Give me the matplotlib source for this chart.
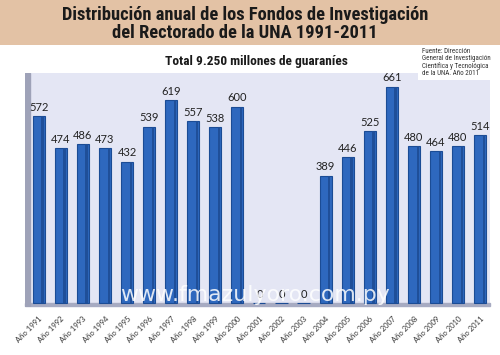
import matplotlib.pyplot as plt
import numpy as np

# Fondos de investigación por año (millones de guaraníes)
years = [str(y) for y in range(1991, 2012)]
values = [572, 474, 486, 473, 432, 539, 619, 557, 538, 600,
          0, 0, 0, 389, 446, 525, 661, 480, 464, 480, 514]
tick_labels = ["Año " + y for y in years]

title = "Distribución anual de los Fondos de Investigación\ndel Rectorado de la UNA 1991-2011"
subtitle = "Total 9.250 millones de guaraníes"
source = "Fuente: Dirección\nGeneral de Investigación\nCientífica y Tecnológica\nde la UNA. Año 2011"

narrow = ['Roboto Condensed', 'Liberation Sans Narrow', 'DejaVu Sans']
plain = ['Lato', 'DejaVu Sans']

fig = plt.figure(figsize=(5, 3.55), dpi=100)
fig.patch.set_facecolor('white')

# banner
fig.patches.append(plt.Rectangle((0, 1 - 45 / 355), 1, 45 / 355, transform=fig.transFigure,
                                 facecolor='#E3C2A5', edgecolor='none', zorder=0))
fig.text(0.49, 1 - 24 / 355, title, ha='center', va='center', fontsize=13.3,
         fontweight='bold', family=narrow, color='#1a1a1a', linespacing=0.95)
fig.text(0.512, 1 - 62 / 355, subtitle, ha='center', va='center', fontsize=9.6,
         fontweight='bold', family=narrow, color='#1a1a1a')

ax = fig.add_axes([0.05, 1 - 307 / 355, 0.93, (307 - 73) / 355])
ax.set_facecolor('#E4E6F4')
x = np.arange(len(values))

# floor and left wall
ax.axhspan(-10, 0, color='#A7ABC2', zorder=1, clip_on=False)
ax.axvspan(-0.62, -0.38, color='#9EA2B8', zorder=1)

bars = ax.bar(x, values, width=0.55, color='#2E68BE', edgecolor='#1B4C95',
              linewidth=0.8, zorder=3)
# darker side shading
ax.bar(x + 0.17, values, width=0.1, color='#1F4F99', zorder=4)

for xi, v in zip(x, values):
    ax.text(xi, v + 10, str(v), ha='center', va='bottom', fontsize=8,
            family=plain, color='#222222', zorder=5)

ax.set_xlim(-0.62, 20.45)
ax.set_ylim(-12, 703)
ax.set_xticks(x)
ax.set_xticklabels(tick_labels, rotation=45, ha='right', va='top', fontsize=5.5,
                   family=plain, color='#333333', rotation_mode='anchor')
ax.tick_params(axis='x', length=0, pad=6)
ax.set_yticks([])
for s in ax.spines.values():
    s.set_visible(False)

# source box
fig.text(0.843, 1 - 48 / 355, source, ha='left', va='top', fontsize=5.0,
         family=narrow, color='#333333', linespacing=1.0,
         bbox=dict(boxstyle='square,pad=0.5', facecolor='white', edgecolor='none'))

# watermark
fig.text(0.51, 1 - 295 / 355, "www.fmazulyoro.com.py", ha='center', va='center',
         fontsize=15.8, color='white', alpha=0.85, zorder=10)

fig.savefig('out.png', dpi=100)
